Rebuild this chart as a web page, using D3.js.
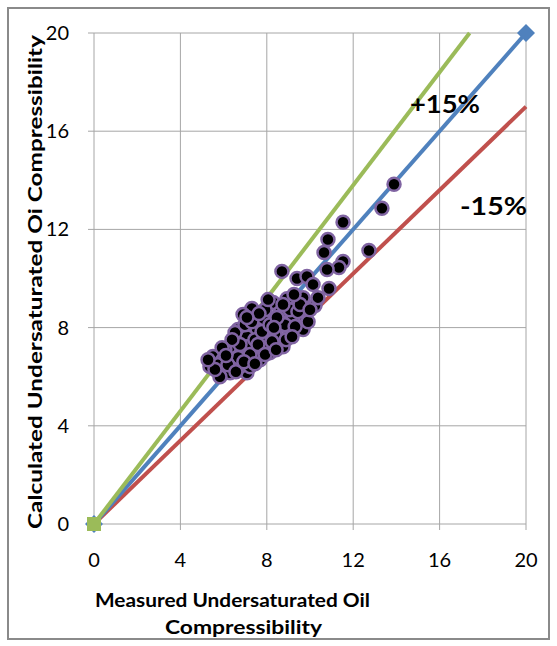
<!DOCTYPE html>
<html>
<head>
<meta charset="utf-8">
<script src="https://cdn.jsdelivr.net/npm/d3@7"></script>
<style>
  body { margin: 0; background: #fff; }
</style>
</head>
<body>
<div id="vis"></div>
<script>
/* data */
let ticks = [0, 4, 8, 12, 16, 20];
let measured = [13.89, 13.33, 12.73, 11.53, 10.83, 10.65, 11.53, 11.34, 10.79, 8.70,
  9.40, 9.86, 10.14, 10.88, 7.31, 8.94, 9.68, 10.23, 8.29, 6.67,
  7.82, 8.61, 9.21, 9.77, 9.07, 9.68, 8.61, 8.01, 7.55, 7.08,
  6.30, 6.53, 7.08, 5.51, 5.37, 5.97, 6.44, 6.30, 7.08, 7.69,
  8.15, 8.75, 7.55, 5.83, 6.76, 7.22, 6.06, 6.76, 7.45, 7.78,
  8.15, 8.38, 8.84, 7.78, 7.22, 6.67, 5.74, 6.20, 7.92, 9.07,
  9.44, 9.54, 8.47, 6.99, 7.31, 5.60, 6.57, 7.59, 8.24, 8.89,
  9.31, 9.91, 8.75, 9.26, 10.37, 8.33, 6.39, 5.93, 5.28, 6.90,
  6.11, 6.94, 7.45, 7.92, 8.43, 9.17, 10.00, 7.64, 8.06, 7.08];
let calculated = [13.84, 12.86, 11.14, 12.29, 11.59, 11.06, 10.69, 10.45, 10.37, 10.29,
  10.00, 10.08, 9.76, 9.59, 8.78, 9.18, 9.22, 8.90, 9.02, 7.92,
  8.33, 8.61, 8.33, 8.45, 7.80, 7.92, 7.22, 7.51, 7.92, 7.63,
  7.22, 7.80, 7.22, 6.82, 6.41, 6.69, 6.69, 6.16, 6.16, 6.69,
  6.98, 7.22, 7.02, 6.00, 6.41, 6.41, 7.10, 7.31, 7.51, 7.84,
  8.12, 7.71, 8.12, 7.18, 6.90, 6.78, 6.49, 6.49, 8.73, 8.73,
  8.65, 8.94, 8.41, 8.12, 8.24, 6.29, 6.20, 7.31, 7.43, 7.51,
  8.04, 8.24, 8.94, 9.35, 9.22, 8.00, 7.51, 7.18, 6.69, 8.53,
  6.86, 6.61, 6.53, 6.90, 7.10, 7.63, 8.73, 8.57, 9.14, 8.41];
let unityLine = [[0, 0], [20, 20]];
let plusLine = [[0, 0], [17.39, 20]];
let minusLine = [[0, 0], [20, 17]];

/* geometry */
let width = 557, height = 646;
let x = d3.scaleLinear().domain([0, 20]).range([94, 526]);
let y = d3.scaleLinear().domain([0, 20]).range([524, 33]);
let font = "Lato, 'Open Sans', sans-serif";

let svg = d3.select("#vis").append("svg")
  .attr("width", width)
  .attr("height", height);

/* outer frame */
svg.append("rect")
  .attr("x", 8).attr("y", 8)
  .attr("width", 541).attr("height", 631)
  .attr("fill", "#fff")
  .attr("stroke", "#8a8a8a")
  .attr("stroke-width", 2);

/* grid */
let grid = svg.append("g");
ticks.forEach(t => {
  grid.append("line")
    .attr("x1", x(t)).attr("x2", x(t))
    .attr("y1", y(20)).attr("y2", y(0) + 6)
    .attr("stroke", "#a6a6a6");
  grid.append("line")
    .attr("x1", x(0) - 6).attr("x2", x(20))
    .attr("y1", y(t)).attr("y2", y(t))
    .attr("stroke", "#a6a6a6");
});

/* tick labels */
svg.append("g").selectAll("text")
  .data(ticks).join("text")
    .attr("x", d => x(d)).attr("y", y(0) + 43)
    .attr("text-anchor", "middle")
    .attr("font-family", font).attr("font-size", 20)
    .text(d => d);
svg.append("g").selectAll("text")
  .data(ticks).join("text")
    .attr("x", 69).attr("y", d => y(d) + 7)
    .attr("text-anchor", "end")
    .attr("font-family", font).attr("font-size", 20)
    .text(d => d);

/* reference lines */
let line = d3.line().x(d => x(d[0])).y(d => y(d[1]));
svg.append("path").attr("d", line(minusLine))
  .attr("stroke", "#c0504d").attr("stroke-width", 4).attr("fill", "none");
svg.append("path").attr("d", line(unityLine))
  .attr("stroke", "#4f81bd").attr("stroke-width", 4).attr("fill", "none");
svg.append("path").attr("d", line(plusLine))
  .attr("stroke", "#9bbb59").attr("stroke-width", 4).attr("fill", "none");

/* scatter */
svg.append("g").selectAll("circle")
  .data(d3.zip(measured, calculated)).join("circle")
    .attr("cx", d => x(d[0])).attr("cy", d => y(d[1]))
    .attr("r", 6.5)
    .attr("fill", "#000")
    .attr("stroke", "#8064a2")
    .attr("stroke-width", 2.5);

/* end markers */
svg.append("g").selectAll("path")
  .data(unityLine).join("path")
    .attr("transform", d => "translate(" + x(d[0]) + "," + y(d[1]) + ")")
    .attr("d", "M0,-9L9,0L0,9L-9,0Z")
    .attr("fill", "#4f81bd");
svg.append("rect")
  .attr("x", x(0) - 7).attr("y", y(0) - 7)
  .attr("width", 14).attr("height", 14)
  .attr("fill", "#9bbb59");

/* labels */
svg.append("text")
  .attr("x", 410).attr("y", 113)
  .attr("font-family", font).attr("font-size", 24).attr("font-weight", "bold")
  .attr("textLength", 70).attr("lengthAdjust", "spacingAndGlyphs")
  .text("+15%");
svg.append("text")
  .attr("x", 460).attr("y", 215)
  .attr("font-family", font).attr("font-size", 24).attr("font-weight", "bold")
  .attr("textLength", 67).attr("lengthAdjust", "spacingAndGlyphs")
  .text("-15%");

/* axis titles */
svg.append("text")
  .attr("x", 95).attr("y", 607)
  .attr("font-family", font).attr("font-size", 19).attr("font-weight", "bold")
  .attr("textLength", 275).attr("lengthAdjust", "spacingAndGlyphs")
  .text("Measured Undersaturated Oil");
svg.append("text")
  .attr("x", 165).attr("y", 634)
  .attr("font-family", font).attr("font-size", 19).attr("font-weight", "bold")
  .attr("textLength", 157).attr("lengthAdjust", "spacingAndGlyphs")
  .text("Compressibility");
svg.append("text")
  .attr("transform", "translate(42,282) rotate(-90)")
  .attr("text-anchor", "middle")
  .attr("font-family", font).attr("font-size", 18).attr("font-weight", "bold")
  .attr("textLength", 494).attr("lengthAdjust", "spacingAndGlyphs")
  .text("Calculated Undersaturated Oi Compressibility");
</script>
</body>
</html>
